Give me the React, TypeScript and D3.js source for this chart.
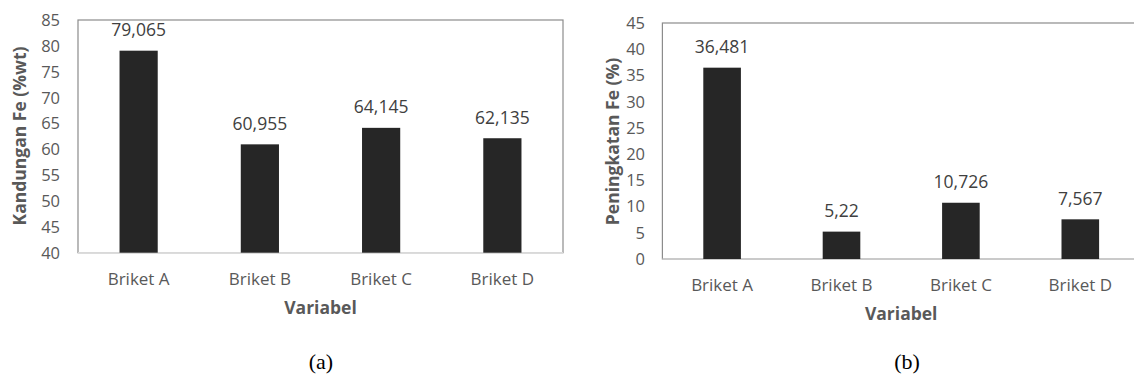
import React from "react";
import * as d3 from "d3";

const categories = ["Briket A", "Briket B", "Briket C", "Briket D"];
const kandunganFe = [79.065, 60.955, 64.145, 62.135];
const peningkatanFe = [36.481, 5.22, 10.726, 7.567];
const ticksA = [40, 45, 50, 55, 60, 65, 70, 75, 80, 85];
const ticksB = [0, 5, 10, 15, 20, 25, 30, 35, 40, 45];

const FONT = "'Open Sans', sans-serif";
const TXT = "#595959";

type PanelProps = {
  values: number[];
  ticks: number[];
  domain: [number, number];
  x0: number;
  x1: number;
  yTop: number;
  yBottom: number;
  yTitle: string;
  yTitleX: number;
  yTitleY: number;
  tickRight: number;
  caption: string;
  captionX: number;
};

function Panel(p: PanelProps) {
  const x = d3.scaleBand<string>().domain(categories).range([p.x0, p.x1]).paddingInner(0.685).paddingOuter(0.3425);
  const y = d3.scaleLinear().domain(p.domain).range([p.yBottom, p.yTop]);
  const fmt = (v: number) => String(v).replace(".", ",");
  return (
    <g>
      <rect x={p.x0} y={p.yTop} width={p.x1 - p.x0} height={p.yBottom - p.yTop} fill="none" stroke="#8c8c8c" strokeWidth={1.2} />
      <line x1={p.x0} x2={p.x1} y1={p.yBottom} y2={p.yBottom} stroke="#d9d9d9" strokeWidth={1.2} />
      {p.ticks.map((t) => (
        <text key={t} x={p.tickRight} y={y(t)} dy="0.36em" textAnchor="end" fontSize={16.5} fill={TXT} fontFamily={FONT}>
          {t}
        </text>
      ))}
      {categories.map((c, i) => (
        <g key={c}>
          <rect x={x(c)!} y={y(p.values[i])} width={x.bandwidth()} height={p.yBottom - y(p.values[i])} fill="#262626" />
          <text x={x(c)! + x.bandwidth() / 2} y={y(p.values[i]) - 14.5} textAnchor="middle" fontSize={17.5} fill="#404040" fontFamily={FONT}>
            {fmt(p.values[i])}
          </text>
          <text x={x(c)! + x.bandwidth() / 2} y={p.yBottom + 32.3} textAnchor="middle" fontSize={17} fill={TXT} fontFamily={FONT}>
            {c}
          </text>
        </g>
      ))}
      <text
        transform={`translate(${p.yTitleX},${p.yTitleY}) rotate(-90)`}
        textAnchor="middle"
        dy="0.36em"
        fontSize={17.5}
        fontWeight="bold"
        fill={TXT}
        fontFamily={FONT}
      >
        {p.yTitle}
      </text>
      <text x={(p.x0 + p.x1) / 2} y={p.yBottom + 60.8} textAnchor="middle" fontSize={17.5} fontWeight="bold" fill={TXT} fontFamily={FONT}>
        Variabel
      </text>
      <text
        x={p.captionX}
        y={369}
        textAnchor="middle"
        fontSize={22}
        fill="#000"
        fontFamily="'Liberation Serif', 'Times New Roman', serif"
      >
        {p.caption}
      </text>
    </g>
  );
}

export default function App() {
  return (
    <svg width={1134} height={378} style={{ position: "absolute", left: 0, top: 0, background: "#fff" }}>
      <rect width={1134} height={378} fill="#fff" />
      <Panel
        values={kandunganFe}
        ticks={ticksA}
        domain={[40, 85]}
        x0={78}
        x1={563}
        yTop={20}
        yBottom={252.7}
        yTitle="Kandungan Fe (%wt)"
        yTitleX={20}
        yTitleY={136}
        tickRight={60}
        caption="(a)"
        captionX={321}
      />
      <Panel
        values={peningkatanFe}
        ticks={ticksB}
        domain={[0, 45]}
        x0={662.4}
        x1={1140}
        yTop={23}
        yBottom={259}
        yTitle="Peningkatan Fe (%)"
        yTitleX={613}
        yTitleY={141.5}
        tickRight={645}
        caption="(b)"
        captionX={907}
      />
    </svg>
  );
}
